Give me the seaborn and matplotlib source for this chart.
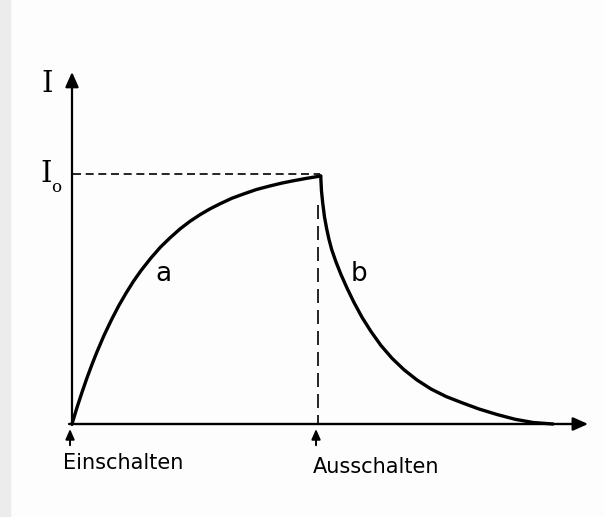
import matplotlib
matplotlib.use("Agg")
import matplotlib.pyplot as plt
from matplotlib.patches import Rectangle, ArrowStyle
import seaborn as sns
import pandas as pd

# Switch-on: current rises towards I0 (curve a)
t_rise = [0.0, 0.1, 0.2, 0.3, 0.4, 0.5, 0.65, 0.8, 0.95, 1.1, 1.25, 1.4, 1.6,
          1.8, 2.0, 2.2, 2.4, 2.6, 2.8, 3.0, 3.25, 3.5, 3.75, 4.0, 4.25, 4.5,
          4.75, 5.055]
i_rise = [0.0, 0.065, 0.125, 0.182, 0.235, 0.285, 0.354, 0.416, 0.473, 0.524,
          0.571, 0.613, 0.663, 0.708, 0.746, 0.781, 0.811, 0.837, 0.860, 0.880,
          0.903, 0.921, 0.938, 0.951, 0.963, 0.973, 0.982, 0.992]

# Switch-off: current decays back to zero (curve b)
t_decay = [5.055, 5.071, 5.096, 5.132, 5.177, 5.224, 5.278, 5.366, 5.467, 5.589,
           5.732, 5.894, 6.077, 6.280, 6.504, 6.748, 7.012, 7.297, 7.602, 7.927,
           8.272, 8.638, 9.004, 9.370, 9.776]
i_decay = [0.992, 0.932, 0.884, 0.828, 0.780, 0.738, 0.698, 0.648, 0.598, 0.544,
           0.486, 0.427, 0.370, 0.314, 0.263, 0.217, 0.176, 0.140, 0.110, 0.085,
           0.060, 0.038, 0.019, 0.006, 0.0]

i_zero = 1.0          # level of the dashed I0 line
t_on, t_off = 0.0, 5.0
curve_labels = ["a", "b"]
switch_labels = ["Einschalten", "Ausschalten"]

rise = pd.DataFrame({"t": t_rise, "I": i_rise})
decay = pd.DataFrame({"t": t_decay, "I": i_decay})

sns.set_style("white")
plt.rcParams["font.family"] = ["DejaVu Sans"]
plt.rcParams["text.color"] = "black"

fig = plt.figure(figsize=(6.04, 5.17), dpi=100, facecolor="#fdfdfd")
ax = fig.add_axes([0, 0, 1, 1])
ax.set_facecolor("#fdfdfd")
ax.set_xlim(-1.4634, 10.813)
ax.set_ylim(-0.372, 1.696)
ax.set_axis_off()

# pale scan edge on the left
fig.add_artist(Rectangle((0, 0), 10 / 604, 1, transform=fig.transFigure,
                         color="#ececec", zorder=0))

line_kw = dict(color="black", linewidth=2.4, sort=False, estimator=None,
               legend=False)
sns.lineplot(data=rise, x="t", y="I", ax=ax, **line_kw)
sns.lineplot(data=decay, x="t", y="I", ax=ax, **line_kw)
for ln in ax.lines:
    ln.set_solid_joinstyle("round")
    ln.set_solid_capstyle("round")

# dashed guides: I0 level and switch-off instant
ax.plot([0.02, t_off + 0.04], [i_zero, i_zero], color="black", lw=1.2,
        dashes=(4.8, 2.8))
ax.plot([t_off, t_off], [0.877, 0.0], color="black", lw=1.2,
        dashes=(8.4, 4.2))

# coordinate axes with arrow heads
big_head = ArrowStyle("-|>", head_length=0.45, head_width=0.2)
ax.annotate("", xy=(10.49, 0), xytext=(-0.06, 0),
            arrowprops=dict(arrowstyle=big_head, lw=1.7, color="black",
                            mutation_scale=20, shrinkA=0, shrinkB=0))
ax.annotate("", xy=(0, 1.408), xytext=(0, -0.004),
            arrowprops=dict(arrowstyle=big_head, lw=1.6, color="black",
                            mutation_scale=20, shrinkA=0, shrinkB=0))

# small arrows marking switch-on / switch-off
small_head = ArrowStyle("-|>", head_length=0.5, head_width=0.22)
for t_mark in (t_on, t_off):
    ax.annotate("", xy=(t_mark - 0.04, -0.02), xytext=(t_mark - 0.04, -0.085),
                arrowprops=dict(arrowstyle=small_head, lw=1.4, color="black",
                                mutation_scale=12, shrinkA=0, shrinkB=0))

# axis labels
ax.text(-0.50, 1.358, "I", family="DejaVu Serif", fontsize=21,
        ha="center", va="center")
ax.text(-0.53, 0.968, "I", family="DejaVu Serif", fontsize=21,
        ha="center", va="baseline")
ax.text(-0.325, 0.944, "o", family="DejaVu Serif", fontsize=12,
        ha="center", va="center")

ax.text(1.856, 0.601, curve_labels[0], fontsize=19, ha="center", va="center")
ax.text(5.83, 0.60, curve_labels[1], fontsize=19, ha="center", va="center")

ax.text(-0.18, -0.18, switch_labels[0], fontsize=15, ha="left",
        va="baseline")
ax.text(4.90, -0.196, switch_labels[1], fontsize=15, ha="left",
        va="baseline")

fig.savefig("out.png", dpi=100, facecolor=fig.get_facecolor())
